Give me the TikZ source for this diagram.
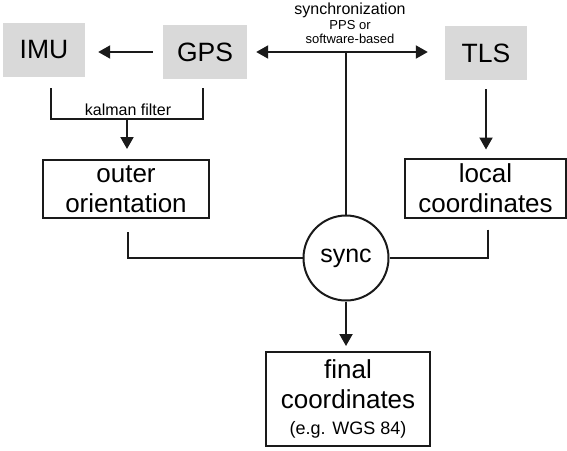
\documentclass[tikz,border=0pt]{standalone}
\usepackage{fontspec}
\setmainfont{Liberation Sans}
\usetikzlibrary{positioning,arrows.meta,calc}
\definecolor{SYNgray}{HTML}{D9D9D9}
\definecolor{SYNline}{HTML}{1A1A1A}
\tikzset{
  sensor/.style={fill=SYNgray, minimum width=82pt, minimum height=54pt, inner sep=0pt, font=\fontsize{26.5}{30}\selectfont},
  databox/.style={draw=SYNline, line width=2pt, align=center, inner sep=0pt, font=\fontsize{26}{30}\selectfont},
  syncnode/.style={circle, draw=SYNline, line width=2pt, minimum size=85pt, inner sep=0pt, font=\fontsize{25}{30}\selectfont},
  flowarr/.style={-{Triangle[length=12pt,width=13pt]}, line width=2pt, draw=SYNline},
  flowdarr/.style={{Triangle[length=12pt,width=13pt]}-{Triangle[length=12pt,width=13pt]}, line width=2pt, draw=SYNline},
  flowline/.style={line width=2pt, draw=SYNline},
  smalltext/.style={inner sep=0pt, align=center, font=\fontsize{16}{18}\selectfont}
}

\begin{document}
\begin{tikzpicture}[x=1pt,y=-1pt]
\useasboundingbox (0,0) rectangle (567,450);
% sensors
\node[sensor] (imu) at (44,50) {IMU};
\node[sensor, minimum width=84pt] (gps) at (205,52) {GPS};
\node[sensor] (tls) at (486,53) {TLS};
% data boxes
\node[databox, minimum width=166pt, minimum height=58pt] (outer) at (126,189) {outer\\orientation};
\node[databox, minimum width=161pt, minimum height=59pt] (local) at (485.5,188) {local\\coordinates};
\node[syncnode] (sync) at (346,258) {sync};
\node[databox, minimum width=164pt, minimum height=94pt] (final) at (348,399) {final\\coordinates\\[-4pt]{\fontsize{18}{20}\selectfont (e.g. WGS 84)}};
% labels
\node[smalltext] (synctitle) at (350,10) {synchronization};
\node[smalltext, font=\fontsize{13}{14.5}\selectfont] (syncmode) at (350,32) {PPS or\\software-based};
\node[smalltext] (kftext) at (128,110) {kalman filter};
% connectors
\draw[flowarr] ([xshift=-10pt]gps.west) -- ([xshift=13pt]imu.east |- gps.west);
\draw[flowdarr] ([xshift=9pt]gps.east) -- ([xshift=-17pt]tls.west |- gps.east);
\coordinate (syncjoin) at (sync |- gps.east);
\draw[flowline] (syncjoin) -- (sync);
\coordinate (kfL) at ($(imu.south)+(7,11)$);
\coordinate (kfR) at ($(gps.south)+(-2,9)$);
\coordinate (kf) at ($(outer.north)+(1,-40)$);
\draw[flowline] (kfL) |- (kf) -| (kfR);
\draw[flowarr, shorten >=10pt] (kf) -- (kf |- outer.north);
\draw[flowarr, shorten <=9pt, shorten >=8pt] (tls) -- (tls |- local.north);
\coordinate (oL) at ($(outer.south)+(2,13)$);
\coordinate (lR) at ($(local.south)+(2,11)$);
\draw[flowline] (oL) |- (sync.west);
\draw[flowline] (lR) |- (sync.east);
\draw[flowarr, shorten >=5pt] (sync.south) -- (sync.south |- final.north);
\end{tikzpicture}
\end{document}
